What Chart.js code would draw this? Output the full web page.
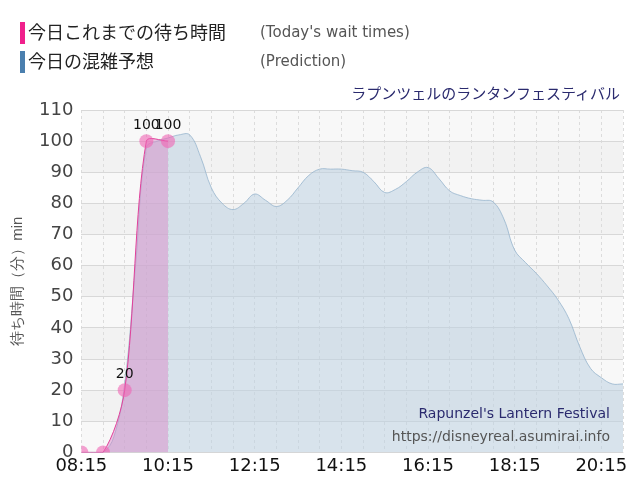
<!DOCTYPE html>
<html>
<head>
<meta charset="utf-8">
<script src="https://cdn.jsdelivr.net/npm/chart.js@4"></script>
<style>
  body { margin: 0; background: #fff; font-family: "Noto Sans CJK JP", "Noto Sans", sans-serif; }
  #wrap { position: relative; width: 640px; height: 500px; }
  .leg { position: absolute; left: 20px; font-size: 18px; color: #222; line-height: 24px; }
  .leg span.bar { display: inline-block; width: 5px; height: 22px; vertical-align: -5px; margin-right: 3px; }
  .leg span.en { position: absolute; left: 240px; top: 1px; font-size: 15px; color: #555; white-space: nowrap; font-family: "DejaVu Sans", sans-serif; }
  #ride { position: absolute; right: 20px; top: 82px; font-size: 15px; color: #2a2a6e; }
  #wm1 { position: absolute; right: 30px; top: 405px; font-size: 14px; color: #2a2a6e; font-family: "DejaVu Sans", sans-serif; }
  #wm2 { position: absolute; right: 30px; top: 428px; font-size: 14px; color: #555; font-family: "DejaVu Sans", sans-serif; }
  canvas { position: absolute; left: 0; top: 0; }
</style>
</head>
<body>
<div id="wrap">
  <canvas id="c" width="640" height="500"></canvas>
  <div class="leg" style="top:19px"><span class="bar" style="background:#f0208c"></span>今日これまでの待ち時間<span class="en">(Today's wait times)</span></div>
  <div class="leg" style="top:48px"><span class="bar" style="background:#4a7fae"></span>今日の混雑予想<span class="en">(Prediction)</span></div>
  <div id="ride">ラプンツェルのランタンフェスティバル</div>
  <div id="wm1">Rapunzel's Lantern Festival</div>
  <div id="wm2">https://disneyreal.asumirai.info</div>
</div>
<script>
// times are minutes since midnight
const todayTimes = ['08:15', '08:45', '09:15', '09:45', '10:15'];
const todayWait = [0, 0, 20, 100, 100];

const predTimes = ['08:15','08:30','08:45','09:00','09:15','09:30','09:45','10:00','10:15','10:30','10:45','11:00','11:15','11:30','11:45',
  '12:00','12:15','12:30','12:45','13:00','13:15','13:30','13:45','14:00','14:15','14:30','14:45','15:00','15:15','15:30','15:45',
  '16:00','16:15','16:30','16:45','17:00','17:15','17:30','17:45','18:00','18:15','18:30','18:45','19:00','19:15','19:30','19:45',
  '20:00','20:15','20:30','20:45'];
const predWait = [0,0,0,5,22,60,98,100,101,102,102,95,85,80,78,
  80,83,81,79,81,85,89,91,91,91,90.5,90,87,83.5,84.5,87,
  90,91.5,88,84,82.5,81.5,81,80.5,75,65,61,57.5,53.5,49,43,34,
  27,24,22,22];

const yTicks = [0,10,20,30,40,50,60,70,80,90,100,110];

const toMin = t => { const [h, m] = t.split(':').map(Number); return h * 60 + m; };
const fmt = v => String(Math.floor(v / 60)).padStart(2, '0') + ':' + String(v % 60).padStart(2, '0');

const bands = {
  id: 'bands',
  beforeDraw(chart) {
    const { ctx, chartArea: a, scales: { y } } = chart;
    ctx.save();
    for (let i = 0; i < yTicks.length - 1; i++) {
      ctx.fillStyle = i % 2 ? '#f2f2f2' : '#f8f8f8';
      const t = y.getPixelForValue(yTicks[i + 1]), b = y.getPixelForValue(yTicks[i]);
      ctx.fillRect(a.left, t, a.right - a.left, b - t);
    }
    ctx.restore();
  }
};

const labels = {
  id: 'labels',
  afterDatasetsDraw(chart) {
    const { ctx } = chart;
    const meta = chart.getDatasetMeta(1);
    ctx.save();
    ctx.font = '14px "DejaVu Sans", sans-serif';
    ctx.fillStyle = '#111';
    ctx.textAlign = 'center';
    meta.data.forEach((p, i) => {
      if (todayWait[i] > 0) ctx.fillText(todayWait[i], p.x, p.y - 12);
    });
    ctx.restore();
  }
};

new Chart(document.getElementById('c'), {
  type: 'line',
  data: {
    datasets: [{
      label: 'Prediction',
      data: predTimes.map((t, i) => ({ x: toMin(t), y: predWait[i] })),
      borderColor: 'rgba(150,180,205,0.8)',
      borderWidth: 1,
      backgroundColor: 'rgba(190,210,225,0.55)',
      fill: 'origin',
      tension: 0.4,
      pointRadius: 0,
      order: 2
    }, {
      label: 'Today',
      data: todayTimes.map((t, i) => ({ x: toMin(t), y: todayWait[i] })),
      borderColor: '#e0409a',
      borderWidth: 1,
      backgroundColor: 'rgba(215,140,200,0.5)',
      fill: 'origin',
      tension: 0.3,
      pointRadius: 7,
      pointBackgroundColor: 'rgba(240,100,180,0.6)',
      pointBorderWidth: 0,
      order: 1
    }]
  },
  options: {
    responsive: false,
    animation: false,
    layout: { padding: { top: 110, right: 17, bottom: 20, left: 5 } },
    plugins: { legend: { display: false }, tooltip: { enabled: false } },
    scales: {
      x: {
        type: 'linear',
        min: toMin('08:15'),
        max: toMin('20:45'),
        ticks: {
          stepSize: 30,
          autoSkip: false,
          maxRotation: 0,
          color: '#111',
          font: { size: 18, family: '"DejaVu Sans", sans-serif' },
          callback: v => ((v - toMin('08:15')) % 120 === 0 ? fmt(v) : '')
        },
        grid: { color: '#dcdcdc', tickLength: 0 },
        border: { dash: [3, 3], display: false }
      },
      y: {
        min: 0,
        max: 110,
        afterBuildTicks: s => { s.ticks = yTicks.map(v => ({ value: v })); },
        ticks: { color: '#444', font: { size: 18, family: '"DejaVu Sans", sans-serif' }, padding: 8 },
        grid: { color: '#d8d8d8', tickLength: 0 },
        border: { display: false },
        title: { display: true, text: '待ち時間（分）min', color: '#555', font: { size: 15 } }
      }
    }
  },
  plugins: [bands, labels]
});
</script>
</body>
</html>
